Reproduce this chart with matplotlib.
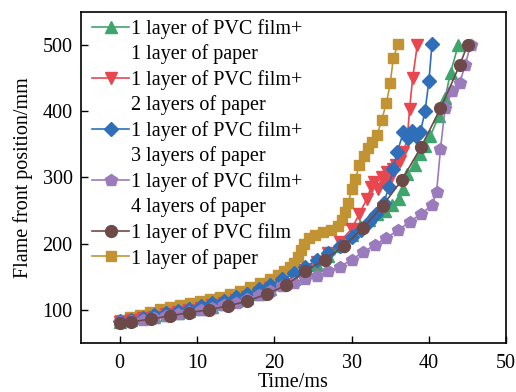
import matplotlib
matplotlib.use("Agg")
import matplotlib.pyplot as plt
from matplotlib.lines import Line2D

# 1 layer of PVC film + 1 layer of paper
t_p1 = [0, 1.5, 3, 4.5, 6, 7.5, 9, 10.5, 12, 13.5, 15, 16.5, 18, 19.5, 21, 22.5,
        24, 25.5, 27, 28.5, 30, 31.1, 32.2, 33.3, 34.3, 35.2, 36.1, 36.6, 37.2,
        38.2, 38.9, 39.5, 40.2, 41.3, 42.1, 42.8, 43.8]
v_p1 = [82, 84, 87, 90, 93, 96, 99, 102, 105, 109, 113, 118, 124, 131, 139, 147,
        157, 168, 181, 196, 213, 226, 236, 244, 250, 258, 268, 282, 305,
        318, 335, 348, 363, 393, 420, 458, 500]

# 1 layer of PVC film + 2 layers of paper
t_p2 = [0, 1.5, 3, 4.5, 6, 7.5, 9, 10.5, 12, 13.5, 15, 16.5, 18, 19.5, 21, 22.5,
        24, 25.5, 27, 28.5, 30, 31, 32, 32.5, 32.9, 33.4, 33.9, 34.3, 34.6, 35.0,
        35.4, 35.8, 36.2, 36.7, 37.2, 37.5, 37.9, 38.5]
v_p2 = [82, 84, 87, 90, 94, 97, 100, 103, 107, 111, 115, 120, 126, 133, 141, 150,
        160, 172, 186, 203, 222, 245, 268, 285, 293, 283, 300, 290, 308, 298,
        312, 318, 325, 338, 358, 403, 450, 500]

# 1 layer of PVC film + 3 layers of paper
t_p3 = [0, 1.5, 3, 4.5, 6, 7.5, 9, 10.5, 12, 13.5, 15, 16.5, 18, 19.5, 21, 22.5,
        24, 25.5, 27, 28.5, 30, 31.2, 32.2, 33.2, 34.2, 34.8, 35.4, 35.9, 36.7,
        37.3, 37.8, 38.3, 38.9, 39.5, 40.0, 40.4]
v_p3 = [83, 85, 88, 92, 95, 99, 102, 106, 110, 114, 119, 124, 131, 138, 146, 155,
        165, 175, 186, 197, 210, 220, 232, 245, 262, 285, 313, 338, 368,
        360, 370, 362, 368, 400, 445, 501]

# 1 layer of PVC film + 4 layers of paper
t_p4 = [0, 1.5, 3, 4.5, 6, 7.5, 9, 10.5, 12, 13.5, 15, 16.5, 18, 19.5, 21, 22.5,
        24, 25.5, 27, 28.5, 30, 31.5, 33, 34.5, 36, 37.5, 39, 40.4, 41, 41.5,
        42.1, 43, 44, 44.7, 45.4]
v_p4 = [81, 83, 85, 88, 91, 94, 97, 100, 103, 107, 111, 116, 122, 129, 136, 141,
        146, 151, 158, 165, 176, 187, 198, 209, 220, 233, 245, 258, 278, 343,
        405, 430, 443, 470, 500]

# 1 layer of PVC film
t_film = [0, 1.5, 4, 6.5, 9, 11.5, 14, 16.5, 19, 21.5, 24, 26.5, 29, 31.5, 34,
          36.5, 39, 41.5, 44, 45]
v_film = [80, 82, 86, 91, 96, 100, 106, 113, 124, 137, 158, 176, 196, 224, 257,
          296, 346, 404, 470, 500]

# 1 layer of paper
t_paper = [0, 1.3, 2.6, 3.9, 5.2, 6.5, 7.8, 9.1, 10.4, 11.7, 13.0, 14.3, 15.6,
           16.9, 18.2, 19.5, 20.5, 21.3, 22.0, 22.6, 23.1, 23.5, 23.9, 24.5, 25.3,
           26.3, 27.3, 28.2, 28.7, 29.2, 29.6, 30.0, 30.5, 31.0, 31.6, 32.1, 32.6,
           33.3, 33.9, 34.5, 35.0, 35.4, 36.0]
v_paper = [85, 89, 93, 97, 101, 104, 107, 110, 113, 116, 120, 124, 129, 134, 140,
           146, 152, 158, 164, 171, 180, 190, 200, 208, 213, 217, 221, 227, 235,
           248, 262, 282, 298, 318, 333, 344, 354, 364, 387, 412, 442, 480, 501]

plt.rcParams['font.family'] = ['Liberation Serif', 'DejaVu Serif']
plt.rcParams['font.size'] = 14.5

fig = plt.figure(figsize=(5.16, 3.92), dpi=100)
ax = fig.add_axes([0.157, 0.125, 0.824, 0.845])

c_green = '#3ea56c'
c_red = '#e8474f'
c_blue = '#2f6fba'
c_purple = '#9a7cbd'
c_brown = '#6e4949'
c_gold = '#c29333'

ax.plot(t_paper, v_paper, color=c_gold, marker='s', ms=7, lw=1.2)
l1, = ax.plot(t_p1, v_p1, color=c_green, marker='^', ms=8.5, lw=1.2)
l2, = ax.plot(t_p2, v_p2, color=c_red, marker='v', ms=8.5, lw=1.2)
l3, = ax.plot(t_p3, v_p3, color=c_blue, marker='D', ms=7.5, lw=1.2)
l4, = ax.plot(t_p4, v_p4, color=c_purple, marker='p', ms=9, lw=1.2)
l5, = ax.plot(t_film, v_film, color=c_brown, marker='o', ms=8.5, lw=1.2)
l6 = Line2D([], [], color=c_gold, marker='s', ms=7, lw=1.2)

# second line of each two-line label gets an empty handle
blank = Line2D([], [], linestyle='none')
handles = [l1, blank, l2, blank, l3, blank, l4, blank, l5, l6]
labels = ['1 layer of PVC film+', '1 layer of paper',
          '1 layer of PVC film+', '2 layers of paper',
          '1 layer of PVC film+', '3 layers of paper',
          '1 layer of PVC film+', '4 layers of paper',
          '1 layer of PVC film', '1 layer of paper']
ax.legend(handles, labels, loc='upper left', bbox_to_anchor=(0.027, 0.979),
          frameon=False, borderaxespad=0, borderpad=0, handlelength=1.8,
          handletextpad=0.1, labelspacing=0.28)

ax.set_xlim(-5, 50)
ax.set_ylim(50, 550)
ax.set_xticks([0, 10, 20, 30, 40, 50])
ax.set_yticks([100, 200, 300, 400, 500])
ax.tick_params(direction='in', length=5, width=1)
ax.tick_params(axis='x', pad=8)
ax.tick_params(axis='y', pad=6)
for s in ax.spines.values():
    s.set_linewidth(1.2)

ax.set_xlabel('Time/ms', labelpad=0)
ax.set_ylabel('Flame front position/mm', labelpad=7)

fig.savefig('out.png', dpi=100)
